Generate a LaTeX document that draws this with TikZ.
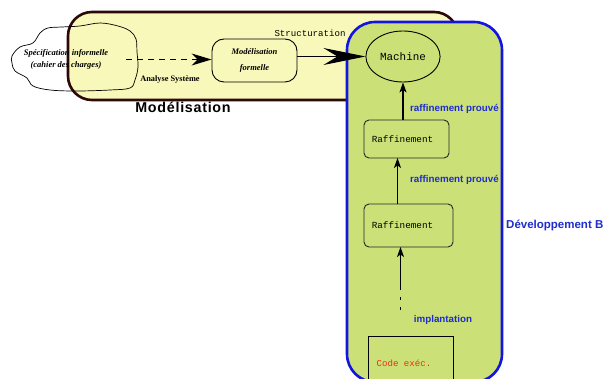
\documentclass[tikz,border=0pt]{standalone}
\usepackage{fontspec}
\setmainfont{Liberation Serif}
\setsansfont{Liberation Sans}
\setmonofont{Liberation Mono}
\usetikzlibrary{arrows.meta,shapes.geometric}
\definecolor{yfill}{RGB}{248,248,186}
\definecolor{ydraw}{RGB}{45,8,8}
\definecolor{gfill}{RGB}{204,224,120}
\definecolor{bdraw}{RGB}{20,20,225}
\definecolor{btext}{RGB}{30,45,205}
\definecolor{rtext}{RGB}{235,45,20}
\tikzset{
  ybox/.style={draw=ydraw,fill=yfill,line width=2.6pt,rounded corners=24pt},
  gbox/.style={draw=bdraw,fill=gfill,line width=2.6pt,rounded corners=28pt},
  raff/.style={draw=black!85,line width=0.9pt,rounded corners=5pt,minimum width=85pt,minimum height=38pt,font=\fontsize{9.3}{10}\selectfont\ttfamily},
  serifit/.style={font=\fontsize{8.5}{10}\selectfont\bfseries\itshape,align=center},
  bluelab/.style={font=\fontsize{9.8}{11}\selectfont\sffamily\bfseries,text=btext},
  uparr/.style={-{Stealth[length=10pt,width=7pt,inset=2.5pt]},line width=1.1pt},
}
\begin{document}
\begin{tikzpicture}[x=1pt,y=-1pt]
\clip (0,0) rectangle (603,379);
\fill[white] (0,0) rectangle (603,379);
% yellow box
\draw[ybox] (68,12) rectangle (458,100);
% blue box
\draw[gbox] (347,22) rectangle (502,382);
% cloud
\draw[line width=0.7pt] plot[smooth cycle,tension=0.6] coordinates {
 (12,56) (20,47) (33,43) (40,33) (48,28) (62,27) (80,26) (100,23) (118,26) (130,31) (136,39)
 (137,52) (138,67) (135,80) (130,88) (110,90) (77,91) (50,90) (33,86) (27,78) (15,71) (12,63)};
\node[serifit] (spec) at (66,59.5) {Spécification informelle\\[2pt](cahier des charges)};
% formelle node
\node[draw,line width=0.9pt,rounded corners=12pt,minimum width=85pt,minimum height=43pt,serifit] (form) at (254.5,60.5) {Modélisation\\[6pt]formelle};
\node[font=\fontsize{8.3}{9}\selectfont\bfseries] (analyse) at (170,80) {Analyse Système};
\coordinate (dstart) at (126,59.5);
\draw[dashed,dash pattern=on 6pt off 5pt,line width=1.3pt,-{Stealth[length=20pt,width=12pt,inset=6pt]}] (dstart) -- (form.west |- dstart);
% machine
\node[draw,ellipse,line width=0.9pt,minimum width=62pt,minimum height=51pt,font=\fontsize{10.9}{12}\selectfont\ttfamily] (mach) at (403,56.5) {Machine};
\draw[line width=1.2pt,-{Stealth[length=42pt,width=17pt,inset=14pt]}] (form.east |- mach) -- (mach.west);
\node[font=\fontsize{9.1}{10}\selectfont\ttfamily] (struct) at (310,33) {Structuration};
% raffinements
\node[raff] (r1) at (406.5,139) {\hspace*{-8pt}Raffinement};
\node[raff,minimum width=89pt,minimum height=43pt] (r2) at (408.5,225.5) {\hspace*{-12pt}Raffinement};
\draw[uparr] (r1.north -| mach.south) -- (mach.south);
\draw[uparr] (397.5,204) -- (397.5,158);
\coordinate (dots) at (400.5,310);
\coordinate (dtop) at (400.5,287);
\draw[uparr] (dtop) -- (400.5,247);
\draw[line width=1.6pt,dash pattern=on 3pt off 7pt] (dtop) -- (dots);
\node[bluelab] (l1) at (454.5,109) {raffinement prouvé};
\node[bluelab] (l2) at (454.5,180) {raffinement prouvé};
\node[bluelab] (l3) at (443,320) {implantation};
\node[bluelab,font=\fontsize{11.5}{12}\selectfont\sffamily\bfseries,anchor=west,inner sep=0pt] (devb) at (506,225) {Développement B};
% code box
\node[draw,line width=0.9pt,minimum width=85pt,minimum height=52pt,anchor=north west,inner sep=0pt] (code) at (368,336) {};
\node[font=\fontsize{9.1}{10}\selectfont\ttfamily,text=rtext] (codet) at (404,363) {Code exéc.};
\node[font=\fontsize{14.3}{15}\selectfont\sffamily\bfseries\addfontfeature{LetterSpace=5}] (modl) at (183,107) {Modélisation};
\end{tikzpicture}
\end{document}
